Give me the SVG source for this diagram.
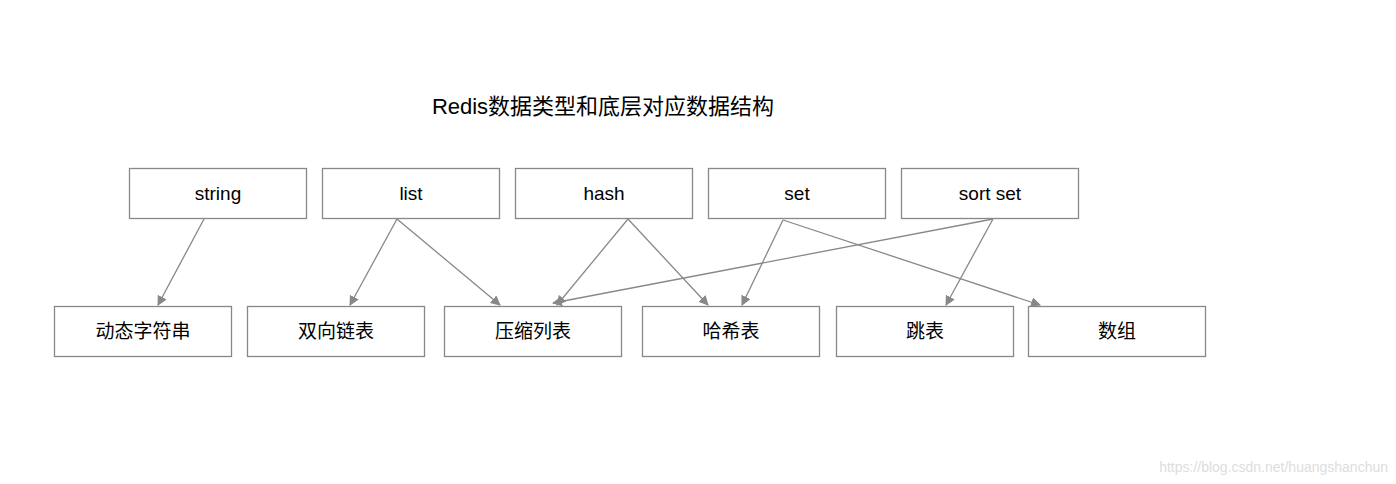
<svg xmlns="http://www.w3.org/2000/svg" width="1396" height="484" viewBox="0 0 1396 484">
<style>
.b{fill:#fff;stroke:#888;stroke-width:1.3}
.t{font-family:"Liberation Sans","Noto Sans CJK SC",sans-serif;font-size:19px;fill:#000;text-anchor:middle}
.c{stroke:#888;stroke-width:1.3;fill:none;marker-end:url(#a)}
</style>
<defs><marker id="a" viewBox="0 0 10 10" refX="9" refY="5" markerWidth="10" markerHeight="10" markerUnits="userSpaceOnUse" orient="auto"><path d="M0,0L10,5L0,10z" fill="#888"/></marker></defs>
<rect width="1396" height="484" fill="#fff"/>
<text x="603" y="114" class="t" style="font-size:22px">Redis数据类型和底层对应数据结构</text>
<g id="string"><rect class="b" x="129.5" y="168.5" width="177" height="50"/><text class="t" x="218" y="200">string</text></g>
<g id="list"><rect class="b" x="322.5" y="168.5" width="177" height="50"/><text class="t" x="411" y="200">list</text></g>
<g id="hash"><rect class="b" x="515.5" y="168.5" width="177" height="50"/><text class="t" x="604" y="200">hash</text></g>
<g id="set"><rect class="b" x="708.5" y="168.5" width="177" height="50"/><text class="t" x="797" y="200">set</text></g>
<g id="sortset"><rect class="b" x="901.5" y="168.5" width="177" height="50"/><text class="t" x="990" y="200">sort set</text></g>
<g id="sds"><rect class="b" x="54.5" y="306.5" width="177" height="50"/><text class="t" x="143" y="338">动态字符串</text></g>
<g id="linkedlist"><rect class="b" x="247.5" y="306.5" width="177" height="50"/><text class="t" x="336" y="338">双向链表</text></g>
<g id="ziplist"><rect class="b" x="444.5" y="306.5" width="177" height="50"/><text class="t" x="533" y="338">压缩列表</text></g>
<g id="hashtable"><rect class="b" x="642.5" y="306.5" width="177" height="50"/><text class="t" x="731" y="338">哈希表</text></g>
<g id="skiplist"><rect class="b" x="836.5" y="306.5" width="177" height="50"/><text class="t" x="925" y="338">跳表</text></g>
<g id="intset"><rect class="b" x="1028.5" y="306.5" width="177" height="50"/><text class="t" x="1117" y="338">数组</text></g>
<g id="connectors">
<path class="c" d="M204,219L158,305"/>
<path class="c" d="M397,219L350,305"/>
<path class="c" d="M397,219L500,305"/>
<path class="c" d="M628,219L557,305"/>
<path class="c" d="M628,219L708,305"/>
<path class="c" d="M783,220L742,305"/>
<path class="c" d="M783,220L1040,305"/>
<path class="c" d="M993,219L946,305"/>
<path class="c" d="M993,219L553,303"/>
</g>
<text x="1388" y="472" style="font-family:'Liberation Sans',sans-serif;font-size:14px;fill:#ddd;text-anchor:end">https://blog.csdn.net/huangshanchun</text>
</svg>
